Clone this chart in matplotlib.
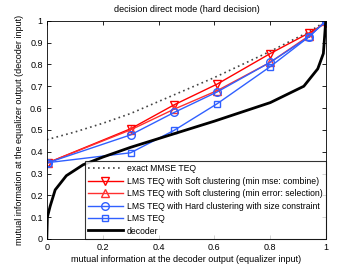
import numpy as np
import matplotlib
matplotlib.use("Agg")
import matplotlib.pyplot as plt

# ─────── Data ───────
x_pts = [0.005, 0.30, 0.456, 0.61, 0.80, 0.937, 1.0]

mmse_x = [0.0, 0.1, 0.2, 0.3, 0.4, 0.5, 0.6, 0.7, 0.8, 0.9, 0.94, 1.0]
mmse_y = [0.455, 0.49, 0.53, 0.575, 0.63, 0.685, 0.74, 0.80, 0.86, 0.925, 0.95, 1.0]

soft_combine = [0.35, 0.505, 0.615, 0.71, 0.85, 0.943, 0.99]
soft_select = [0.35, 0.50, 0.595, 0.68, 0.81, 0.93, 1.0]
hard_size = [0.35, 0.477, 0.58, 0.674, 0.81, 0.925, 1.0]
lms = [0.35, 0.395, 0.498, 0.62, 0.79, 0.925, 1.0]

dec_x = [0.0, 0.002, 0.012, 0.03, 0.07, 0.13, 0.2, 0.3, 0.45, 0.6, 0.8, 0.92, 0.97, 0.99, 0.998, 1.0]
dec_y = [0.0, 0.10, 0.15, 0.225, 0.29, 0.34, 0.375, 0.42, 0.48, 0.54, 0.625, 0.70, 0.78, 0.85, 0.99, 1.0]

labels = [
    "exact MMSE TEQ",
    "LMS TEQ with Soft clustering (min mse: combine)",
    "LMS TEQ with Soft clustering (min error: selection)",
    "LMS TEQ with Hard clustering with size constraint",
    "LMS TEQ",
    "decoder",
]

# ─────── Plot ───────
plt.rcParams["font.family"] = ["Liberation Sans", "DejaVu Sans"]
fig = plt.figure(figsize=(3.6, 2.7), dpi=100)
ax = fig.add_axes([0.13, 0.115, 0.776, 0.808])

red = "#ff0000"
red2 = "#ff3030"
blue = "#3060ff"
ms = 5.5

ax.plot(mmse_x, mmse_y, color="#444444", linestyle=(0, (1, 2)), linewidth=1.2, label=labels[0])
ax.plot(x_pts, soft_combine, color=red, marker="v", markersize=ms, markerfacecolor="none",
        linewidth=1.0, label=labels[1])
ax.plot(x_pts, soft_select, color=red2, marker="^", markersize=ms, markerfacecolor="none",
        linewidth=1.0, label=labels[2])
ax.plot(x_pts, hard_size, color=blue, marker="o", markersize=ms, markerfacecolor="none",
        linewidth=1.0, label=labels[3])
ax.plot(x_pts, lms, color=blue, marker="s", markersize=5, markerfacecolor="none",
        linewidth=1.0, label=labels[4])
ax.plot(dec_x, dec_y, color="black", linewidth=2.0, label=labels[5])

ax.set_xlim(0, 1)
ax.set_ylim(0, 1)
ax.set_xticks(np.arange(0, 1.01, 0.2))
ax.set_xticklabels(["0", "0.2", "0.4", "0.6", "0.8", "1"])
ax.set_yticks(np.arange(0, 1.01, 0.1))
ax.set_yticklabels(["0", "0.1", "0.2", "0.3", "0.4", "0.5", "0.6", "0.7", "0.8", "0.9", "1"])
ax.tick_params(direction="in", top=True, right=True, labelsize=6.5, length=3, width=0.6, pad=3)
for s in ax.spines.values():
    s.set_linewidth(0.6)

ax.set_title("decision direct mode (hard decision)", fontsize=6.5, pad=6)
ax.set_xlabel("mutual information at the decoder output (equalizer input)", fontsize=6.5, labelpad=2)
ax.set_ylabel("mutual information at the equalizer output (decoder input)", fontsize=6.5, labelpad=4)

leg = ax.legend(loc="lower right", fontsize=6.2, frameon=True, fancybox=False, edgecolor="black",
                borderaxespad=0, handlelength=4.0, handletextpad=0.5, labelspacing=0.4,
                borderpad=0.4)
leg.get_frame().set_linewidth(0.8)

fig.savefig("out.png", dpi=100)
